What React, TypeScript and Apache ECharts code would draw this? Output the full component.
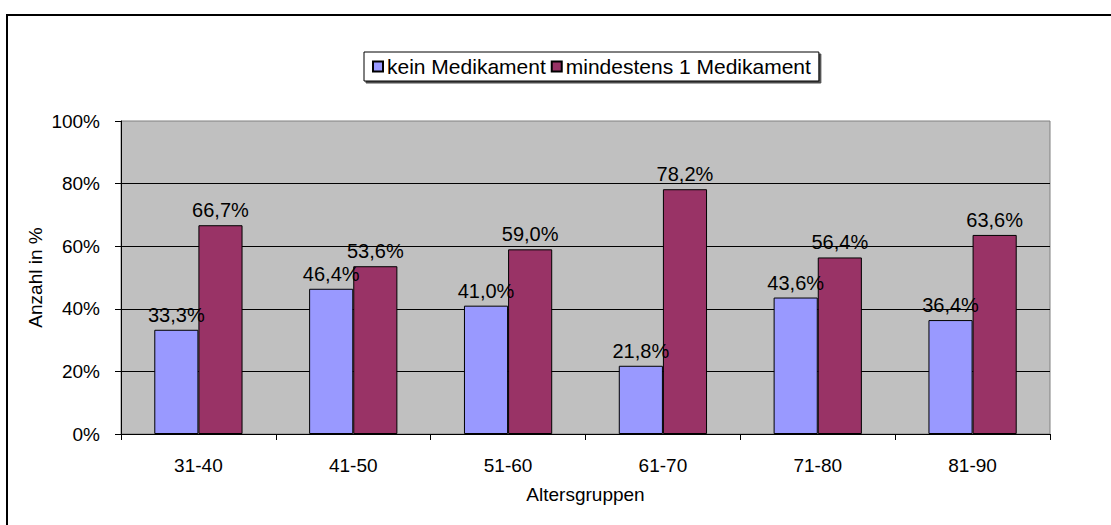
import React, { useEffect, useRef } from "react";
import * as echarts from "echarts";

const categories = ["31-40", "41-50", "51-60", "61-70", "71-80", "81-90"];
const keinMedikament = [33.3, 46.4, 41.0, 21.8, 43.6, 36.4];
const mindestens1 = [66.7, 53.6, 59.0, 78.2, 56.4, 63.6];
const seriesNames = ["kein Medikament", "mindestens 1 Medikament"];

const FONT = "'Liberation Sans', Arial, sans-serif";
const fmt = (v: number) => v.toFixed(1).replace(".", ",") + "%";

export default function App() {
  const ref = useRef<HTMLDivElement>(null);
  useEffect(() => {
    if (!ref.current) return;
    const chart = echarts.init(ref.current, undefined, { renderer: "svg" });
    const labelCfg = {
      show: true,
      position: "top" as const,
      distance: 5,
      color: "#000",
      fontFamily: FONT,
      fontSize: 20,
      formatter: (p: any) => fmt(p.value),
    };
    chart.setOption({
      animation: false,
      backgroundColor: "#fff",
      textStyle: { fontFamily: FONT, color: "#000" },
      graphic: [
        {
          type: "rect",
          shape: { x: 7, y: 15, width: 1200, height: 600 },
          style: { fill: "none", stroke: "#000", lineWidth: 2 },
          silent: true,
        },
      ],
      legend: {
        left: 364,
        top: 52,
        itemWidth: 10,
        itemHeight: 10,
        itemGap: 5,
        padding: [4, 8, 4, 8],
        borderColor: "#000",
        borderWidth: 1,
        backgroundColor: "#fff",
        shadowColor: "rgba(0,0,0,0.7)",
        shadowOffsetX: 2,
        shadowOffsetY: 2,
        icon: "rect",
        textStyle: { fontFamily: FONT, fontSize: 21, color: "#000", padding: [0, 0, 0, -1] },
        data: seriesNames,
      },
      grid: {
        left: 121,
        top: 121,
        right: 61,
        bottom: 91,
        show: true,
        backgroundColor: "#C0C0C0",
        borderColor: "#808080",
        borderWidth: 1,
      },
      xAxis: {
        type: "category",
        data: categories,
        name: "Altersgruppen",
        nameLocation: "middle",
        nameGap: 51,
        nameMoveOverlap: false,
        nameTextStyle: { fontFamily: FONT, fontSize: 19, color: "#000" },
        axisLine: { lineStyle: { color: "#000", width: 1 } },
        axisTick: { show: true, length: 6, lineStyle: { color: "#000" } },
        axisLabel: { fontFamily: FONT, fontSize: 19, color: "#000", margin: 22 },
      },
      yAxis: {
        type: "value",
        min: 0,
        max: 100,
        interval: 20,
        name: "Anzahl in %",
        nameLocation: "middle",
        nameGap: 76,
        nameMoveOverlap: false,
        nameTextStyle: { fontFamily: FONT, fontSize: 19, color: "#000" },
        axisLine: { show: true, lineStyle: { color: "#000", width: 1 } },
        axisTick: { show: true, length: 6, lineStyle: { color: "#000" } },
        axisLabel: {
          fontFamily: FONT,
          fontSize: 19,
          color: "#000",
          margin: 21,
          formatter: (v: number) => v + "%",
        },
        splitLine: {
          show: true,
          showMaxLine: false,
          lineStyle: { color: "#000", width: 1 },
        },
      },
      series: [
        {
          name: seriesNames[0],
          type: "bar",
          data: keinMedikament,
          barGap: "0%",
          barCategoryGap: "43%",
          itemStyle: { color: "#9999FF", borderColor: "#000", borderWidth: 1 },
          label: labelCfg,
        },
        {
          name: seriesNames[1],
          type: "bar",
          data: mindestens1,
          barGap: "0%",
          barCategoryGap: "43%",
          itemStyle: { color: "#993366", borderColor: "#000", borderWidth: 1 },
          label: labelCfg,
        },
      ],
    });
    return () => chart.dispose();
  }, []);
  return (
    <div
      ref={ref}
      style={{ position: "fixed", left: 0, top: 0, width: 1111, height: 525 }}
    />
  );
}
